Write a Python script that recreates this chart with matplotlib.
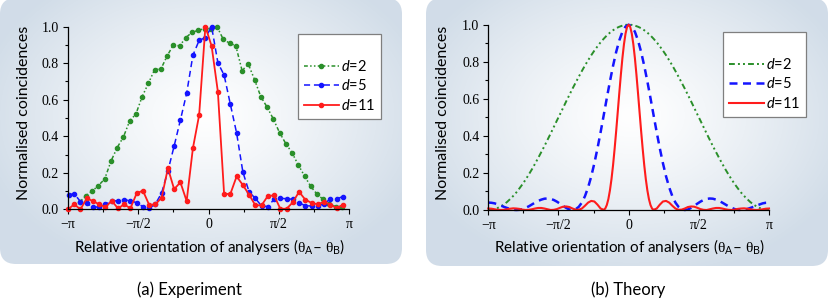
import matplotlib
matplotlib.use("Agg")
import matplotlib.pyplot as plt
import numpy as np
from matplotlib.patches import FancyBboxPatch
from matplotlib.lines import Line2D

plt.rcParams['font.family'] = ['Lato', 'DejaVu Sans']
plt.rcParams['mathtext.fontset'] = 'custom'
plt.rcParams['mathtext.rm'] = 'Liberation Serif'
plt.rcParams['mathtext.it'] = 'Lato:italic'
plt.rcParams['mathtext.sf'] = 'Lato'

# ---- (a) experiment, angles in degrees ----
exp_d2_deg = [-165, -157, -149, -141, -133, -125, -117, -109, -101, -93, -85, -77, -69, -61,
              -53, -45, -37, -29, -21, -13, -5, 3, 11, 19, 27, 35, 43, 51, 59, 67, 75, 83,
              91, 99, 107, 115, 123, 131, 139, 147, 155, 163, 171]
exp_d2 = [0.04, 0.075, 0.10, 0.13, 0.166, 0.263, 0.338, 0.396, 0.484, 0.522, 0.617, 0.69,
          0.765, 0.768, 0.84, 0.90, 0.895, 0.94, 0.97, 0.98, 0.99, 0.99, 1.0, 0.93, 0.91,
          0.895, 0.76, 0.795, 0.71, 0.617, 0.56, 0.495, 0.42, 0.36, 0.31, 0.243, 0.183,
          0.125, 0.083, 0.054, 0.028, 0.015, 0.01]

exp_d5_deg = [-179, -172, -164, -156, -148, -140, -132, -124, -116, -108, -100, -92, -84, -76,
              -68, -60, -52, -44, -36, -28, -20, -12, -4, 4, 12, 20, 28, 36, 44, 52, 60, 68,
              76, 84, 92, 100, 108, 116, 124, 132, 140, 148, 156, 164, 172]
exp_d5 = [0.08, 0.085, 0.042, 0.033, 0.012, 0.013, 0.027, 0.045, 0.047, 0.052, 0.047, 0.036,
          0.014, 0.005, 0.029, 0.09, 0.21, 0.347, 0.489, 0.635, 0.843, 0.925, 0.94, 1.0,
          0.803, 0.735, 0.575, 0.418, 0.205, 0.095, 0.06, 0.018, 0.015, 0.055, 0.06, 0.058,
          0.055, 0.035, 0.02, 0.018, 0.018, 0.03, 0.056, 0.056, 0.07]

exp_d11_deg = [-180, -172, -164, -156, -148, -140, -132, -124, -116, -108, -100, -92, -84, -76,
               -68, -60, -52, -44, -36, -28, -20, -12, -4, 4, 12, 20, 28, 36, 44, 52, 60, 68,
               76, 84, 92, 100, 108, 116, 124, 132, 140, 148, 156, 164, 172]
exp_d11 = [0.0, 0.027, 0.0, 0.06, 0.045, 0.027, 0.011, 0.047, 0.005, 0.027, 0.005, 0.088,
           0.102, 0.024, 0.027, 0.064, 0.225, 0.11, 0.148, 0.045, 0.334, 0.516, 1.0, 0.894,
           0.644, 0.084, 0.084, 0.18, 0.133, 0.08, 0.022, 0.022, 0.073, 0.076, 0.003, 0.003,
           0.038, 0.096, 0.053, 0.035, 0.027, 0.041, 0.025, 0.008, 0.024]

# ---- (b) theory ----
theo_deg = [-180, -176, -172, -168, -164, -160, -156, -152, -148, -144, -140, -136, -132, -128,
            -124, -120, -116, -112, -108, -104, -100, -96, -92, -88, -84, -80, -76, -72, -68,
            -64, -60, -56, -52, -48, -44, -40, -36, -32, -28, -24, -20, -16, -12, -8, -4, 0,
            4, 8, 12, 16, 20, 24, 28, 32, 36, 40, 44, 48, 52, 56, 60, 64, 68, 72, 76, 80, 84,
            88, 92, 96, 100, 104, 108, 112, 116, 120, 124, 128, 132, 136, 140, 144, 148, 152,
            156, 160, 164, 168, 172, 176, 180]
theo_d2 = [0.000, 0.001, 0.005, 0.011, 0.019, 0.030, 0.043, 0.059, 0.076, 0.095, 0.117, 0.140,
           0.165, 0.192, 0.220, 0.250, 0.281, 0.313, 0.345, 0.379, 0.413, 0.448, 0.483, 0.517,
           0.552, 0.587, 0.621, 0.655, 0.687, 0.719, 0.750, 0.780, 0.808, 0.835, 0.860, 0.883,
           0.905, 0.924, 0.942, 0.957, 0.970, 0.981, 0.989, 0.995, 0.999, 1.000,
           0.999, 0.995, 0.989, 0.981, 0.970, 0.957, 0.942, 0.924, 0.905, 0.883, 0.860, 0.835,
           0.808, 0.780, 0.750, 0.719, 0.687, 0.655, 0.621, 0.587, 0.552, 0.517, 0.483, 0.448,
           0.413, 0.379, 0.345, 0.313, 0.281, 0.250, 0.220, 0.192, 0.165, 0.140, 0.117, 0.095,
           0.076, 0.059, 0.043, 0.030, 0.019, 0.011, 0.005, 0.001, 0.000]
theo_d5 = [0.040, 0.039, 0.036, 0.030, 0.024, 0.017, 0.011, 0.005, 0.001, 0.000, 0.001, 0.005,
           0.012, 0.020, 0.030, 0.040, 0.049, 0.056, 0.061, 0.062, 0.060, 0.054, 0.045, 0.034,
           0.022, 0.011, 0.003, 0.000, 0.004, 0.017, 0.040, 0.075, 0.122, 0.181, 0.252, 0.332,
           0.419, 0.511, 0.604, 0.694, 0.778, 0.853, 0.915, 0.962, 0.990, 1.000,
           0.990, 0.962, 0.915, 0.853, 0.778, 0.694, 0.604, 0.511, 0.419, 0.332, 0.252, 0.181,
           0.122, 0.075, 0.040, 0.017, 0.004, 0.000, 0.003, 0.011, 0.022, 0.034, 0.045, 0.054,
           0.060, 0.062, 0.061, 0.056, 0.049, 0.040, 0.030, 0.020, 0.012, 0.005, 0.001, 0.000,
           0.001, 0.005, 0.011, 0.017, 0.024, 0.030, 0.036, 0.039, 0.040]

theo_d11_deg = [-180, -176, -172, -168, -164, -160, -156, -152, -148, -144, -140, -136, -132,
                -128, -124, -120, -116, -112, -108, -104, -100, -96, -92, -88, -84, -80, -76,
                -72, -68, -64, -60, -56, -52, -48, -44, -40, -36, -32, -30, -28, -26, -24, -22,
                -20, -18, -16, -14, -12, -10, -8, -6, -4, -2, 0, 2, 4, 6, 8, 10, 12, 14, 16, 18,
                20, 22, 24, 26, 28, 30, 32, 36, 40, 44, 48, 52, 56, 60, 64, 68, 72, 76, 80, 84,
                88, 92, 96, 100, 104, 108, 112, 116, 120, 124, 128, 132, 136, 140, 144, 148,
                152, 156, 160, 164, 168, 172, 176, 180]
theo_d11 = [0.008, 0.007, 0.004, 0.001, 0.000, 0.001, 0.004, 0.007, 0.009, 0.008, 0.006, 0.002,
            0.000, 0.001, 0.004, 0.008, 0.011, 0.011, 0.008, 0.004, 0.000, 0.001, 0.005, 0.012,
            0.018, 0.019, 0.016, 0.008, 0.002, 0.001, 0.008, 0.023, 0.040, 0.049, 0.046, 0.029,
            0.008, 0.001, 0.008, 0.027, 0.059, 0.106, 0.167, 0.242, 0.330, 0.426, 0.528, 0.631,
            0.730, 0.820, 0.895, 0.952, 0.988, 1.000, 0.988, 0.952, 0.895, 0.820, 0.730, 0.631,
            0.528, 0.426, 0.330, 0.242, 0.167, 0.106, 0.059, 0.027, 0.008, 0.001, 0.008, 0.029,
            0.046, 0.049, 0.040, 0.023, 0.008, 0.001, 0.002, 0.008, 0.016, 0.019, 0.018, 0.012,
            0.005, 0.001, 0.000, 0.004, 0.008, 0.011, 0.011, 0.008, 0.004, 0.001, 0.000, 0.002,
            0.006, 0.008, 0.009, 0.007, 0.004, 0.001, 0.000, 0.001, 0.004, 0.007, 0.008]

labels = ['$d$=2', '$d$=5', '$d$=11']
xtick_pos = [-180, -90, 0, 90, 180]
xtick_lab = ['\u2212\u03c0', '\u2212\u03c0/2', '0', '\u03c0/2', '\u03c0']

GREEN = '#2a8f2a'
BLUE = '#1414ff'
RED = '#ff1c1c'

W, H = 830, 306
fig = plt.figure(figsize=(W / 100, H / 100), dpi=100)

# shaded rounded panels behind each plot
bg = fig.add_axes([0, 0, 1, 1], zorder=-10)
bg.axis('off')
white = np.array([1.0, 1.0, 1.0])
edge = np.array([0.82, 0.865, 0.91])
for x0, y0, x1, y1, cx, cy in [(0, -2, 402, 264, 205, 115), (426, -2, 828, 266, 630, 115)]:
    r = 16
    box = FancyBboxPatch((x0 + r, y0 + r), x1 - x0 - 2 * r, y1 - y0 - 2 * r,
                         boxstyle="round,pad=%d" % r, fc='none', ec='none',
                         transform=bg.transData)
    bg.add_patch(box)
    yy, xx = np.mgrid[y0:y1, x0:x1]
    d = np.sqrt(((xx - cx) / 230.0) ** 2 + ((yy - cy) / 165.0) ** 2)
    t = np.clip(d, 0, 1) ** 1.2
    img = white[None, None, :] * (1 - t[..., None]) + edge[None, None, :] * t[..., None]
    im = bg.imshow(img, extent=(x0, x1, y1, y0), origin='upper', aspect='auto',
                   interpolation='bilinear')
    im.set_clip_path(box)
bg.set_xlim(0, W)
bg.set_ylim(H, 0)


def style_axes(ax):
    ax.set_facecolor('none')
    ax.set_xlim(-180, 180)
    ax.set_ylim(0, 1.0)
    for s in ['top', 'right']:
        ax.spines[s].set_visible(False)
    for s in ['left', 'bottom']:
        ax.spines[s].set_linewidth(0.9)
    ax.set_xticks(xtick_pos)
    ax.set_xticklabels(xtick_lab, family='Liberation Serif', fontsize=10)
    ax.set_xticks([-135, -45, 45, 135], minor=True)
    ax.set_yticks([0, 0.2, 0.4, 0.6, 0.8, 1.0])
    ax.set_yticklabels(['0.0', '0.2', '0.4', '0.6', '0.8', '1.0'],
                       family='Liberation Serif', fontsize=10)
    ax.set_yticks([0.1, 0.3, 0.5, 0.7, 0.9], minor=True)
    ax.tick_params(which='major', direction='out', length=3.5, width=0.8, pad=3)
    ax.tick_params(which='minor', direction='out', length=2, width=0.8)
    ax.tick_params(axis='x', pad=3)


def add_legend(ax, handles, x0, ytop):
    blank = Line2D([], [], color='none')
    leg = ax.legend([blank] + handles, [' '] + labels, loc='upper left',
                    bbox_to_anchor=(x0, ytop), fontsize=10.5, frameon=True, fancybox=False,
                    edgecolor='#7f7f7f', framealpha=1, handlelength=2.4, handletextpad=0.15,
                    labelspacing=0.33, borderpad=0.4, borderaxespad=0, numpoints=1)
    leg.get_frame().set_linewidth(0.9)
    leg.set_clip_on(False)
    return leg


# (a) experiment
ax1 = fig.add_axes([68 / W, 1 - 209.3 / H, 281 / W, 182.6 / H])
style_axes(ax1)
l1, = ax1.plot(exp_d2_deg, exp_d2, color=GREEN, lw=1.1, ls=(0, (2.5, 1.5, 1, 1.5, 1, 1.5)),
               marker='o', ms=3.0, clip_on=False)
l2, = ax1.plot(exp_d5_deg, exp_d5, color=BLUE, lw=1.1, ls=(0, (4, 2.5)),
               marker='o', ms=3.0, clip_on=False)
l3, = ax1.plot(exp_d11_deg, exp_d11, color=RED, lw=1.3, marker='o', ms=3.0, clip_on=False)
add_legend(ax1, [l1, l2, l3], (297.7 - 68) / 281, (209.3 - 34) / 182.6)

# (b) theory
ax2 = fig.add_axes([488.3 / W, 1 - 210 / H, 280.7 / W, 185.3 / H])
style_axes(ax2)
m1, = ax2.plot(theo_deg, theo_d2, color=GREEN, lw=1.4, ls=(0, (3, 1.6, 1, 1.6, 1, 1.6)),
               clip_on=False)
m2, = ax2.plot(theo_deg, theo_d5, color=BLUE, lw=1.8, ls=(0, (3.2, 2.2)), clip_on=False)
m3, = ax2.plot(theo_d11_deg, theo_d11, color=RED, lw=1.5, clip_on=False)
add_legend(ax2, [m1, m2, m3], (723 - 488.3) / 280.7, (210 - 32) / 185.3)

ylab = 'Normalised coincidences'
xlab = ('Relative orientation of analysers ($\\mathrm{\\theta}_{\\mathsf{A}}$\u2013 '
        '$\\mathrm{\\theta}_{\\mathsf{B}}$)')
fig.text(24 / W, 1 - 113 / H, ylab, rotation=90, ha='center', va='center', fontsize=11.5)
fig.text(443 / W, 1 - 113 / H, ylab, rotation=90, ha='center', va='center', fontsize=11.5)
fig.text(210 / W, 1 - 247 / H, xlab, ha='center', va='center', fontsize=11)
fig.text(630 / W, 1 - 247 / H, xlab, ha='center', va='center', fontsize=11)
fig.text(189 / W, 1 - 290 / H, '(a) Experiment', ha='center', va='center', fontsize=12)
fig.text(628 / W, 1 - 290 / H, '(b) Theory', ha='center', va='center', fontsize=12)

fig.savefig('out.png', dpi=100, facecolor='white')
